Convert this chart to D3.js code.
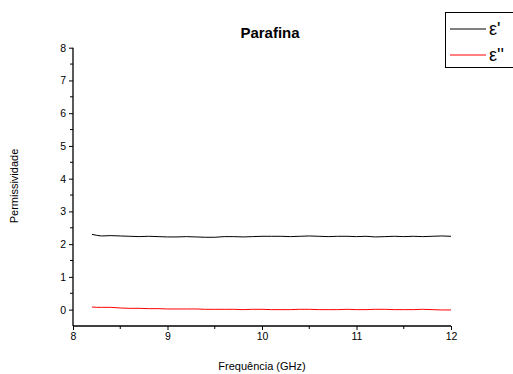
<!DOCTYPE html>
<html><head><meta charset="utf-8">
<script src="https://cdn.jsdelivr.net/npm/d3@7"></script>
<style>body{margin:0;background:#fff}svg{display:block}text{font-family:"Liberation Sans",Arial,sans-serif}</style>
</head><body><svg id="c" width="513" height="374"></svg>
<script>
const freq = [8.2,8.25,8.3,8.4,8.5,8.6,8.7,8.8,8.9,9.0,9.1,9.2,9.3,9.4,9.5,9.6,9.7,9.8,9.9,10.0,10.1,10.2,10.3,10.4,10.5,10.6,10.7,10.8,10.9,11.0,11.1,11.2,11.3,11.4,11.5,11.6,11.7,11.8,11.9,12.0];
const epsReal = [2.30,2.27,2.25,2.26,2.25,2.24,2.23,2.24,2.23,2.22,2.22,2.23,2.22,2.21,2.21,2.23,2.23,2.22,2.23,2.24,2.24,2.24,2.23,2.24,2.25,2.24,2.23,2.24,2.24,2.23,2.24,2.22,2.23,2.24,2.23,2.24,2.23,2.24,2.25,2.24];
const epsImag = [0.08,0.07,0.07,0.07,0.05,0.04,0.04,0.03,0.03,0.02,0.02,0.02,0.02,0.01,0.01,0.01,0.01,0.00,0.01,0.01,0.00,0.00,0.00,0.01,0.01,0.00,0.00,0.00,0.01,0.00,0.00,0.01,0.01,0.00,0.00,0.00,0.01,0.00,-0.01,-0.01];
const xTicks = [8,9,10,11,12];
const yTicks = [0,1,2,3,4,5,6,7,8];
const seriesNames = ["ε'", "ε''"];
const seriesColors = ["#000000", "#ff0000"];

const svg = d3.select("#c");
const x = d3.scaleLinear().domain([8,12]).range([73,451]);
const y = d3.scaleLinear().domain([-0.5,8]).range([326,47.7]);

// axes
const xAxis = d3.axisBottom(x).tickValues(xTicks).tickFormat(d3.format("d")).tickSizeOuter(0).tickSize(4).tickPadding(3);
const gx = svg.append("g").attr("transform","translate(0,326)").call(xAxis);
gx.selectAll(".tick").filter(d=>false);
const xMinor = d3.range(8.5,12,1);
gx.selectAll(".minor").data(xMinor).enter().append("line")
  .attr("x1",d=>x(d)).attr("x2",d=>x(d)).attr("y1",0).attr("y2",3).attr("stroke","#000");
const yAxis = d3.axisLeft(y).tickValues(yTicks).tickFormat(d3.format("d")).tickSizeOuter(0).tickSize(4).tickPadding(3);
const gy = svg.append("g").attr("transform","translate(73,0)").call(yAxis);
const yMinor = d3.range(0.5,8,1).concat([-0.5+0]);
gy.selectAll(".minor").data(d3.range(0.5,8,1)).enter().append("line")
  .attr("x1",0).attr("x2",-3).attr("y1",d=>y(d)).attr("y2",d=>y(d)).attr("stroke","#000");
svg.selectAll(".domain").attr("stroke","#000").attr("stroke-width",1.3);
svg.selectAll(".tick text").attr("font-size","10.5px").attr("fill","#000");
gx.select(".domain").attr("d","M73,0H451");
gy.select(".domain").attr("d","M0,"+y(8)+"V326");

// lines
const line = vals => d3.line().x((d,i)=>x(freq[i])).y(d=>y(d))(vals);
svg.append("path").attr("d",line(epsReal)).attr("fill","none").attr("stroke",seriesColors[0]).attr("stroke-width",1);
svg.append("path").attr("d",line(epsImag)).attr("fill","none").attr("stroke",seriesColors[1]).attr("stroke-width",1);

// title & labels
svg.append("text").attr("x",270).attr("y",38).attr("text-anchor","middle").attr("font-weight","bold").attr("font-size","15px").text("Parafina");
svg.append("text").attr("x",262).attr("y",370).attr("text-anchor","middle").attr("font-size","11px").text("Frequência (GHz)");
svg.append("text").attr("transform","translate(18,186) rotate(-90)").attr("text-anchor","middle").attr("font-size","11px").text("Permissividade");

// legend
const lg = svg.append("g");
lg.append("rect").attr("x",445.5).attr("y",12.5).attr("width",70).attr("height",55).attr("fill","none").attr("stroke","#000");
seriesNames.forEach((n,i)=>{
  const yy = 29 + i*26;
  lg.append("line").attr("x1",450).attr("x2",486).attr("y1",yy).attr("y2",yy).attr("stroke",seriesColors[i]);
  lg.append("text").attr("x",489).attr("y",yy+6).attr("font-size","18px").text(n);
});
</script></body></html>
